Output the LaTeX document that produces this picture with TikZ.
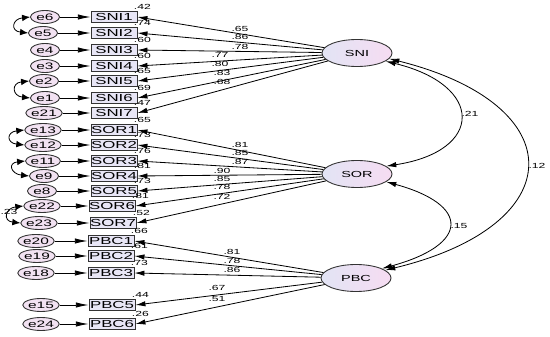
\documentclass[tikz,border=0pt]{standalone}
\usepackage{fontspec}
\setmainfont{Liberation Sans}[FakeStretch=1.65]
\usetikzlibrary{arrows.meta,shapes.geometric}
\definecolor{boxfill}{HTML}{E8E6F6}
\definecolor{errfill}{HTML}{F2E2F2}
\definecolor{latleft}{HTML}{E2E4F4}
\definecolor{latright}{HTML}{F6DCF2}
\begin{document}
\begin{tikzpicture}[x=0.03cm,y=-0.03cm,
    manifest/.style={draw=black!80,fill=boxfill,line width=0.75pt,minimum width=1.38cm,minimum height=0.33cm,inner sep=0pt,font=\fontsize{8.7}{9}\selectfont},
    errvar/.style={ellipse,draw=black!80,fill=errfill,line width=0.75pt,minimum width=0.87cm,minimum height=0.39cm,inner sep=0pt,font=\fontsize{8}{9}\selectfont},
    latent/.style={ellipse,draw=black!80,left color=latleft,right color=latright,line width=0.75pt,minimum width=2.1cm,minimum height=0.81cm,inner sep=0pt,font=\fontsize{7.5}{8}\selectfont},
    coef/.style={font=\fontsize{6.3}{7}\selectfont,inner sep=0pt},
    loading/.style={line width=0.7pt,-{Latex[length=3mm,width=1.6mm]}},
    errpath/.style={line width=0.7pt,-{Latex[length=3.8mm,width=1.6mm]}},
    errcov/.style={line width=0.7pt,{Latex[length=2.4mm,width=2mm]}-{Latex[length=2.4mm,width=2mm]}},
    cov/.style={line width=0.7pt,{Latex[length=3mm,width=1.6mm]}-{Latex[length=3mm,width=1.6mm]}}]
    \useasboundingbox (0,0) rectangle (550,337);
    \node[latent] (SNI) at (357,53) {SNI};
    \node[latent] (SOR) at (357,174) {SOR};
    \node[latent] (PBC) at (356,278) {PBC};
    \node[coef] at (9,212) {.23};
    \foreach \lat/\ind/\ev/\y/\bx/\ex/\rsq/\lx/\ly/\lam in {
        SNI/SNI1/e6/17/114/45/.42/240/29/.65,
        SNI/SNI2/e5/33/114/43/.74/240/37/.86,
        SNI/SNI3/e4/50/114/45/.60/240/47/.78,
        SNI/SNI4/e3/66/114/45/.60/220/55/.77,
        SNI/SNI5/e2/81/114/44/.65/220/64/.80,
        SNI/SNI6/e1/98/114/45/.69/222/73/.83,
        SNI/SNI7/e21/113/114/44/.47/222/82/.68,
        SOR/SOR1/e13/130/114/43/.65/240/145/.81,
        SOR/SOR2/e12/145/114/43/.73/240/153/.85,
        SOR/SOR3/e11/161/114/43/.76/240/162/.87,
        SOR/SOR4/e9/176/114/44/.81/222/171/.90,
        SOR/SOR5/e8/191/114/42/.73/222/179/.85,
        SOR/SOR6/e22/206/112/42/.81/222/187/.78,
        SOR/SOR7/e23/223/113/39/.52/222/197/.72,
        PBC/PBC1/e20/241/111/36/.66/232/252/.81,
        PBC/PBC2/e19/256/111/37/.61/232/261/.78,
        PBC/PBC3/e18/273/111/36/.73/232/270/.86,
        PBC/PBC5/e15/305/112/41/.44/217/288/.67,
        PBC/PBC6/e24/324/112/41/.26/217/299/.51}{
        \node[manifest] (\ind) at (\bx,\y) {\ind};
        \node[errvar] (\ev) at (\ex,\y) {\ev};
        \node[coef] at ([shift={(5,-4.5)}]\ind.north east) {\rsq};
        \draw[errpath] (\ev) -- (\ind);
        \draw[loading] (\lat) -- (\ind.east);
        \node[coef] at (\lx,\ly) {\lam};
    }
    \foreach \a/\b in {e6/e5,e2/e1,e13/e12,e11/e9,e22/e23}
        \draw[errcov] (\a.west) .. controls +(-18,2) and +(-18,-2) .. (\b.west);
    \draw[cov] (SNI.-16) .. controls +(99,24) and +(98,-15) .. (SOR.15);
    \draw[cov] (SNI.-10) .. controls +(184,46) and +(187,-45) .. (PBC.15);
    \draw[cov] (SOR.-15) .. controls +(84,23) and +(88,-24) .. (PBC.20);
    \node[coef] at (470,114) {.21};
    \node[coef] at (537,166) {.12};
    \node[coef] at (459,226) {.15};
\end{tikzpicture}
\end{document}
